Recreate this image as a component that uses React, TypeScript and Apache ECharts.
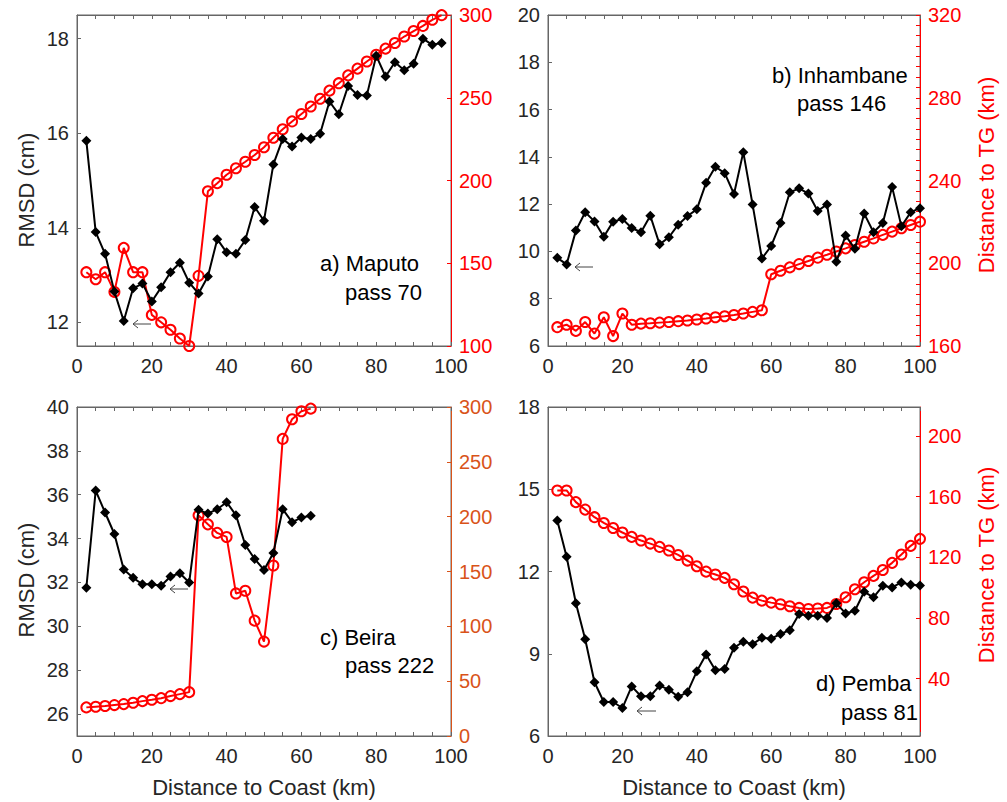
import React, { useEffect, useRef } from "react";
import * as echarts from "echarts";

// Distance to coast (km) of each along-track point
const dist = [2.5, 5, 7.5, 10, 12.5, 15, 17.5, 20, 22.5, 25, 27.5, 30, 32.5, 35, 37.5, 40, 42.5, 45, 47.5, 50,
  52.5, 55, 57.5, 60, 62.5, 65, 67.5, 70, 72.5, 75, 77.5, 80, 82.5, 85, 87.5, 90, 92.5, 95, 97.5, 100];

// a) Maputo pass 70
const rmsdA = [15.84, 13.91, 13.45, 12.65, 12.03, 12.72, 12.82, 12.44, 12.74, 13.06, 13.26, 12.84, 12.61, 12.97,
  13.76, 13.48, 13.45, 13.74, 14.44, 14.15, 15.34, 15.88, 15.72, 15.91, 15.88, 15.99, 16.67, 16.4, 17.0, 16.81,
  16.8, 17.64, 17.2, 17.5, 17.33, 17.47, 18.0, 17.87, 17.91];
const tgA = [144.6, 140.3, 144.6, 132.7, 159.3, 144.6, 144.6, 118.8, 114.3, 109.8, 104.5, 100, 142.4, 193.5,
  198.4, 203.5, 207.4, 211.3, 215.4, 220.1, 225.8, 231.0, 235.7, 240.2, 244.7, 249.4, 254.3, 258.8, 263.5,
  267.6, 271.9, 276.0, 279.7, 283.1, 287.0, 290.3, 293.4, 297.1, 299.9];

// b) Inhambane pass 146
const rmsdB = [9.73, 9.45, 10.88, 11.66, 11.27, 10.62, 11.26, 11.37, 10.99, 10.81, 11.51, 10.3, 10.6, 11.13,
  11.5, 11.78, 12.9, 13.58, 13.31, 12.43, 14.2, 11.98, 9.7, 10.23, 11.2, 12.5, 12.67, 12.45, 11.71, 11.99,
  9.56, 10.67, 10.11, 11.6, 10.81, 11.2, 12.73, 11.06, 11.66, 11.83];
const tgB = [169.1, 170.3, 167.3, 171.6, 166.0, 173.9, 164.8, 175.7, 170.3, 170.8, 171.0, 171.3, 171.6, 172.0,
  172.3, 172.8, 173.3, 173.9, 174.4, 175.0, 175.7, 176.5, 177.3, 194.7, 196.4, 198.0, 199.6, 201.1, 202.7,
  204.1, 205.7, 207.2, 208.8, 210.4, 212.0, 213.7, 215.3, 216.9, 218.5, 220.1];

// c) Beira pass 222
const rmsdC = [31.76, 36.19, 35.19, 34.21, 32.59, 32.21, 31.92, 31.92, 31.85, 32.27, 32.42, 32.0, 35.31, 35.14,
  35.34, 35.66, 35.07, 33.71, 33.07, 32.57, 33.34, 35.34, 34.75, 34.96, 35.04];
const tgC = [26.1, 26.7, 27.3, 28.2, 29.1, 30.3, 31.8, 33.0, 34.5, 36.4, 38.2, 40.0, 201.2, 193.0, 185.2, 181.5,
  130.0, 132.4, 105.2, 86.1, 155.5, 270.9, 288.8, 296.1, 298.5];

// d) Pemba pass 81
const rmsdD = [13.86, 12.54, 10.84, 9.53, 7.96, 7.24, 7.24, 7.02, 7.81, 7.45, 7.45, 7.84, 7.69, 7.43, 7.6, 8.36,
  8.97, 8.4, 8.44, 9.22, 9.44, 9.35, 9.58, 9.55, 9.72, 9.86, 10.45, 10.39, 10.39, 10.3, 10.84, 10.47, 10.57,
  11.26, 11.06, 11.48, 11.42, 11.6, 11.52, 11.49];
const tgD = [164.0, 164.0, 156.3, 151.4, 146.4, 142.6, 139.3, 136.3, 133.4, 131.0, 129.0, 126.8, 124.4, 121.5,
  117.8, 114.1, 110.5, 108.6, 106.4, 102.2, 97.4, 93.4, 91.4, 90.1, 89.0, 87.7, 86.6, 85.9, 86.2, 86.6, 89.2,
  93.6, 98.9, 103.5, 107.7, 111.6, 116.3, 121.8, 127.5, 132.1];

// Tick values
const xTicks = [0, 20, 40, 60, 80, 100];
const leftTicksA = [12, 14, 16, 18];
const rightTicksA = [100, 150, 200, 250, 300];
const leftTicksB = [6, 8, 10, 12, 14, 16, 18, 20];
const rightTicksB = [160, 200, 240, 280, 320];
const leftTicksC = [26, 28, 30, 32, 34, 36, 38, 40];
const rightTicksC = [0, 50, 100, 150, 200, 250, 300];
const leftTicksD = [6, 9, 12, 15, 18];
const rightTicksD = [40, 80, 120, 160, 200];

const titles = [
  ["a) Maputo", "pass 70"],
  ["b) Inhambane", "pass 146"],
  ["c) Beira", "pass 222"],
  ["d) Pemba", "pass 81"],
];

const FONT = '"Liberation Sans", Arial, Helvetica, sans-serif';
const GRAY = "#666666";
const TXT = "#262626";
const RED = "#ff0000";
const ORANGE = "#D95319";

export default function App() {
  const ref = useRef<HTMLDivElement>(null);

  useEffect(() => {
    if (!ref.current) return;
    const chart = echarts.init(ref.current, undefined, { renderer: "svg" });

    const grids = [
      { left: 77, top: 15, width: 374, height: 331 },
      { left: 548, top: 15, width: 372, height: 331 },
      { left: 77, top: 407, width: 374, height: 329 },
      { left: 548, top: 407, width: 372, height: 329 },
    ];

    const panels = [
      { rmsd: rmsdA, tg: tgA, lmin: 11.5, lmax: 18.5, lt: leftTicksA, rmin: 100, rmax: 300, rt: rightTicksA, rc: RED, minor: 0 },
      { rmsd: rmsdB, tg: tgB, lmin: 6, lmax: 20, lt: leftTicksB, rmin: 160, rmax: 320, rt: rightTicksB, rc: RED, minor: 8 },
      { rmsd: rmsdC, tg: tgC, lmin: 25, lmax: 40, lt: leftTicksC, rmin: 0, rmax: 300, rt: rightTicksC, rc: ORANGE, minor: 0 },
      { rmsd: rmsdD, tg: tgD, lmin: 6, lmax: 18, lt: leftTicksD, rmin: 2.2, rmax: 219, rt: rightTicksD, rc: RED, minor: 0 },
    ];

    const xAxis: any[] = [];
    const yAxis: any[] = [];
    const series: any[] = [];

    panels.forEach((p, i) => {
      const common = {
        type: "value",
        gridIndex: i,
        min: 0,
        max: 100,
        interval: 20,
        axisLine: { show: true, onZero: false, lineStyle: { color: GRAY, width: 1 } },
        axisTick: { show: true, inside: true, length: 4, lineStyle: { color: GRAY } },
        minorTick: { show: true, splitNumber: 4, length: 4, lineStyle: { color: GRAY } },
        splitLine: { show: false },
        minorSplitLine: { show: false },
      };
      xAxis.push({
        ...common,
        position: "bottom",
        axisLabel: { show: true, fontSize: 20, color: TXT, fontFamily: FONT, margin: 10, customValues: xTicks },
      });
      xAxis.push({ ...common, position: "top", axisLabel: { show: false } });

      yAxis.push({
        type: "value",
        gridIndex: i,
        position: "left",
        min: p.lmin,
        max: p.lmax,
        axisLine: { show: true, onZero: false, lineStyle: { color: GRAY, width: 1 } },
        axisTick: { show: true, inside: true, length: 4, lineStyle: { color: GRAY }, customValues: p.lt },
        axisLabel: { show: true, fontSize: 20, color: TXT, fontFamily: FONT, margin: 8, customValues: p.lt },
        splitLine: { show: false },
      });
      const right: any = {
        type: "value",
        gridIndex: i,
        position: "right",
        min: p.rmin,
        max: p.rmax,
        axisLine: { show: true, onZero: false, lineStyle: { color: p.rc, width: 1 } },
        axisTick: { show: true, inside: true, length: 4, lineStyle: { color: p.rc } },
        axisLabel: { show: true, fontSize: 20, color: p.rc, fontFamily: FONT, margin: 8 },
        splitLine: { show: false },
      };
      if (p.minor) {
        right.interval = 40;
        right.minorTick = { show: true, splitNumber: p.minor, length: 4, lineStyle: { color: p.rc } };
      } else {
        right.axisTick.customValues = p.rt;
        right.axisLabel.customValues = p.rt;
      }
      yAxis.push(right);

      series.push({
        type: "line",
        xAxisIndex: 2 * i,
        yAxisIndex: 2 * i + 1,
        data: p.tg.map((v, k) => [dist[k], v]),
        symbol: "circle",
        symbolSize: 10,
        clip: false,
        z: 2,
        silent: true,
        lineStyle: { color: RED, width: 2 },
        itemStyle: { color: "rgba(255,255,255,0)", borderColor: RED, borderWidth: 2 },
      });
      series.push({
        type: "line",
        xAxisIndex: 2 * i,
        yAxisIndex: 2 * i,
        data: p.rmsd.map((v, k) => [dist[k], v]),
        symbol: "diamond",
        symbolSize: 10,
        z: 3,
        silent: true,
        lineStyle: { color: "#000", width: 2 },
        itemStyle: { color: "#000" },
      });
    });

    const titlePos = [
      [320, 263, 292],
      [772, 75, 103],
      [320, 637, 665],
      [816, 683, 712],
    ];
    const graphic: any[] = [];
    titles.forEach((t, i) => {
      const [x, y1, y2] = titlePos[i];
      graphic.push({
        type: "text", x, y: y1,
        style: { text: t[0], font: `22px ${FONT}`, fill: "#000", textAlign: "left", textVerticalAlign: "middle" },
      });
      graphic.push({
        type: "text", x: x + 25, y: y2,
        style: { text: t[1], font: `22px ${FONT}`, fill: "#000", textAlign: "left", textVerticalAlign: "middle" },
      });
    });

    // axis names
    [190, 580].forEach((y) => {
      graphic.push({
        type: "text", x: 26, y, rotation: Math.PI / 2,
        style: { text: "RMSD (cm)", font: `22px ${FONT}`, fill: TXT, textAlign: "center", textVerticalAlign: "middle" },
      });
    });
    [175, 565].forEach((y) => {
      graphic.push({
        type: "text", x: 986, y, rotation: Math.PI / 2,
        style: { text: "Distance to TG (km)", font: `22px ${FONT}`, fill: RED, textAlign: "center", textVerticalAlign: "middle" },
      });
    });
    [264, 734].forEach((x) => {
      graphic.push({
        type: "text", x, y: 787,
        style: { text: "Distance to Coast (km)", font: `22px ${FONT}`, fill: TXT, textAlign: "center", textVerticalAlign: "middle" },
      });
    });

    // small arrows
    const arrows = [
      [133, 151, 324],
      [575, 593, 267],
      [170, 188, 589],
      [637, 656, 711],
    ];
    arrows.forEach(([x0, x1, y]) => {
      graphic.push({ type: "line", shape: { x1: x0, y1: y, x2: x1, y2: y }, style: { stroke: "#444", lineWidth: 1 } });
      graphic.push({
        type: "polyline",
        shape: { points: [[x0 + 5, y - 4], [x0, y], [x0 + 5, y + 4]] },
        style: { stroke: "#444", lineWidth: 1, fill: "none" },
      });
    });

    chart.setOption({
      animation: false,
      backgroundColor: "#ffffff",
      textStyle: { fontFamily: FONT },
      grid: grids.map((g) => ({ ...g, show: true, borderColor: GRAY, borderWidth: 1, backgroundColor: "transparent", containLabel: false })),
      xAxis,
      yAxis,
      series,
      graphic,
    });

    return () => chart.dispose();
  }, []);

  return <div ref={ref} style={{ position: "absolute", left: 0, top: 0, width: 1007, height: 802 }} />;
}
